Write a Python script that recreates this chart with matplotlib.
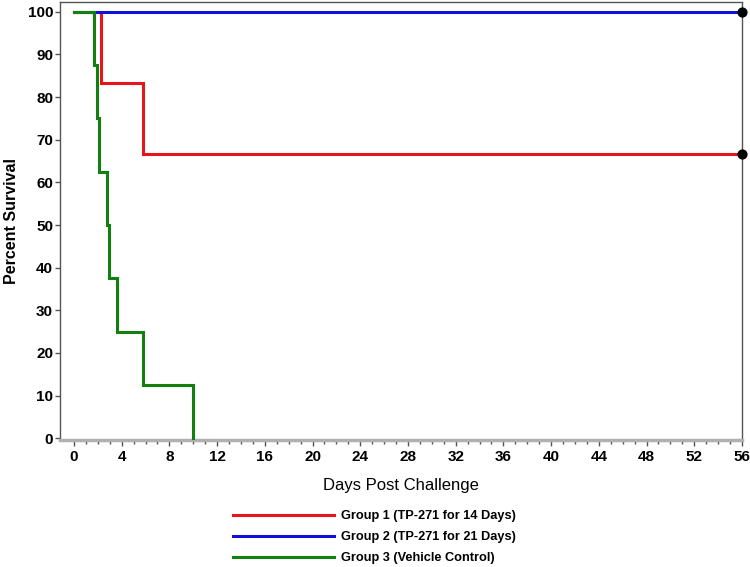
import numpy as np
import matplotlib.pyplot as plt

plt.rcParams['font.family'] = ['Liberation Sans', 'DejaVu Sans']

# Kaplan-Meier step data (day, percent survival)
g1_days = [0, 2.24, 5.8, 56]
g1_surv = [100, 83.33, 66.67, 66.67]
g2_days = [0, 56]
g2_surv = [100, 100]
g3_days = [0, 1.7, 1.9, 2.1, 2.74, 2.9, 3.58, 5.8, 10.0]
g3_surv = [100, 87.5, 75, 62.5, 50, 37.5, 25, 12.5, 0]

# censored points at end of follow-up
cens_days = [56, 56]
cens_surv = [100, 66.67]

labels = ["Group 1 (TP-271 for 14 Days)",
          "Group 2 (TP-271 for 21 Days)",
          "Group 3 (Vehicle Control)"]
colors = ["#e8141c", "#1010d8", "#118011"]

fig = plt.figure(figsize=(7.5, 5.67), dpi=100)
ax = fig.add_axes([60 / 750, 1 - 440 / 567, 682 / 750, 438 / 567])

lines = []
for days, surv, col, z in [(g1_days, g1_surv, colors[0], 2),
                           (g2_days, g2_surv, colors[1], 3),
                           (g3_days, g3_surv, colors[2], 4)]:
    ln, = ax.step(days, surv, where="post", color=col, lw=2.2, zorder=z,
                  clip_on=False, solid_joinstyle="miter")
    lines.append(ln)

ax.scatter(cens_days, cens_surv, s=40, color="black", zorder=6, clip_on=False)

ax.set_xlim(-1.17, 56)
ax.set_ylim(-0.4, 102.3)
ax.set_xticks(np.arange(0, 57, 4))
ax.set_xticks(np.arange(0, 57, 1), minor=True)
ax.set_yticks(np.arange(0, 101, 10))

for s in ["left", "top", "right"]:
    ax.spines[s].set_color("#555555")
    ax.spines[s].set_linewidth(1.0)
ax.spines["bottom"].set_color("#b0b0b0")
ax.spines["bottom"].set_linewidth(2.5)

ax.tick_params(axis="y", which="major", direction="out", length=3.5,
               width=1, color="#555555", labelsize=11, pad=1.5)
ax.tick_params(axis="x", which="major", direction="out", length=4,
               width=1, color="#555555", labelsize=11, pad=3)
ax.tick_params(axis="x", which="minor", direction="out", length=3,
               width=1, color="#555555")
for lab in ax.get_xticklabels() + ax.get_yticklabels():
    lab.set_fontweight("bold")

ax.set_xlabel("Days Post Challenge", fontsize=12, labelpad=10)
ax.set_ylabel("Percent Survival", fontsize=11.5, fontweight="bold", labelpad=6)

fig.legend(lines, labels, loc="upper left",
           bbox_to_anchor=(233 / 750, 1 - 510 / 567),
           frameon=False, borderpad=0, borderaxespad=0,
           handlelength=7.9, handletextpad=0.55, labelspacing=0.72,
           prop={"size": 9.2, "weight": "bold"})

fig.savefig("out.png", dpi=100)
